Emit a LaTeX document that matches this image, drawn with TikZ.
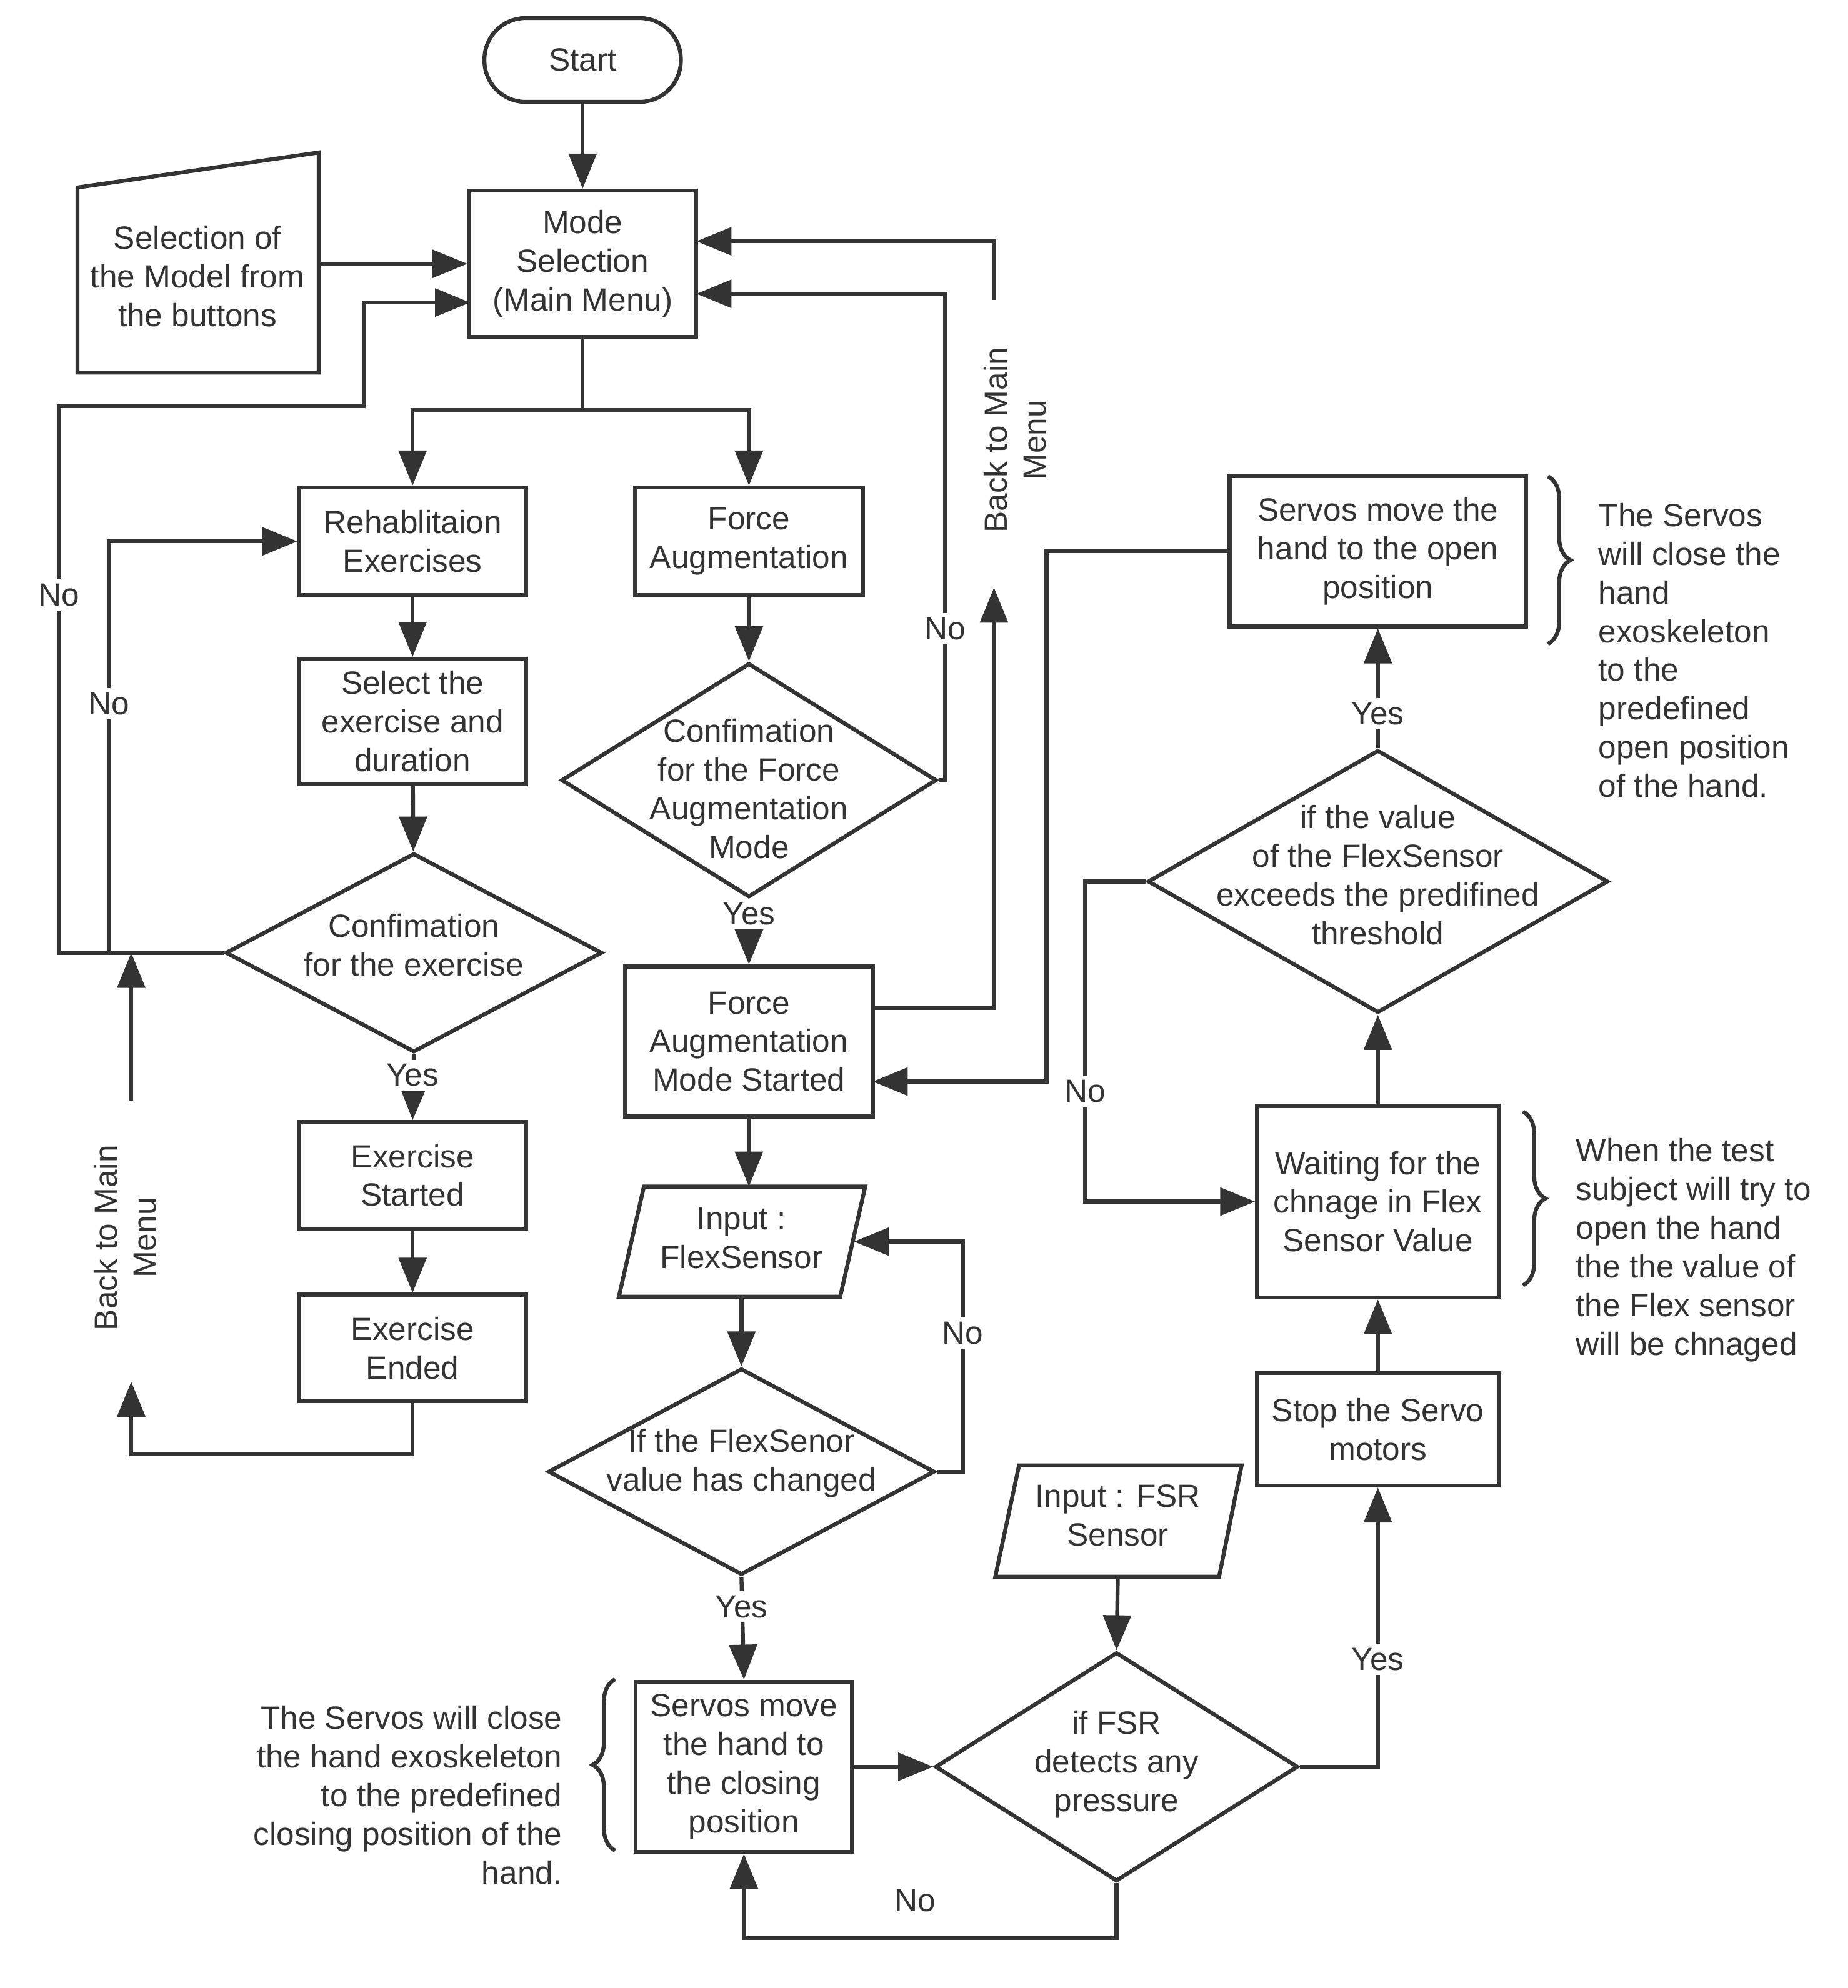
\documentclass[tikz,border=0pt]{standalone}
\usepackage{fontspec}
\setmainfont{Liberation Sans}
\usetikzlibrary{shapes.geometric,arrows.meta,decorations.pathreplacing}
\definecolor{ink}{HTML}{333333}
\begin{document}
\begin{tikzpicture}[x=0.01cm,y=-0.01cm,
  every node/.style={font=\fontsize{7.3}{8.8}\selectfont,text=ink,align=center},
  box/.style={draw=ink,line width=0.9pt,rectangle,inner sep=0pt},
  dia/.style={draw=ink,line width=0.9pt,diamond,inner sep=0pt},
  ln/.style={draw=ink,line width=0.9pt},
  ar/.style={ln,-{Triangle[length=0.28cm,width=0.22cm]}},
  lab/.style={fill=white,inner sep=1pt},
  br/.style={ln,decorate,decoration={brace,amplitude=0.18cm}}]
\useasboundingbox (0,0) rectangle (1478,1590);
\node[box,rounded corners=0.33cm,minimum width=1.57cm,minimum height=0.67cm] (start) at (466,48) {Start};
\draw[ln] (62,150) -- (255,122) -- (255,298) -- (62,298) -- cycle;
\node[minimum width=1.93cm,minimum height=1.76cm] (sel) at (158,221) {Selection of\\the Model from\\the buttons};
\node[box,minimum width=1.81cm,minimum height=1.17cm] (mode) at (466,211) {Mode\\Selection\\(Main Menu)};
\node[box,minimum width=1.81cm,minimum height=0.86cm] (rehab) at (330,433) {Rehablitaion\\Exercises};
\node[box,minimum width=1.82cm,minimum height=0.86cm] (force) at (599,433) {Force\\Augmentation};
\node[box,minimum width=1.81cm,minimum height=1.0cm] (selex) at (330,577) {Select the\\exercise and\\duration};
\node[dia,minimum width=3.0cm,minimum height=1.87cm] (confF) at (599,624) {};
\node at (599,631) {Confimation\\for the Force\\Augmentation\\Mode};
\node[dia,minimum width=3.01cm,minimum height=1.59cm] (confE) at (331,762) {};
\node at (331,756) {Confimation\\for the exercise};
\node[box,minimum width=1.98cm,minimum height=1.2cm] (fams) at (599,833) {Force\\Augmentation\\Mode Started};
\node[box,minimum width=1.81cm,minimum height=0.85cm] (exS) at (330,940) {Exercise\\Started};
\node[box,minimum width=1.81cm,minimum height=0.85cm] (exE) at (330,1078) {Exercise\\Ended};
\draw[ln] (515,949) -- (692,949) -- (672,1037) -- (495,1037) -- cycle;
\node[minimum width=1.8cm,minimum height=0.88cm] (inFlex) at (593,990) {Input :\\FlexSensor};
\node[dia,minimum width=3.09cm,minimum height=1.65cm] (ifFlex) at (593,1177) {};
\node at (593,1170) {If the FlexSenor\\value has changed};
\node[box,minimum width=1.73cm,minimum height=1.36cm] (servC) at (595,1413) {Servos move\\the hand to\\the closing\\position};
\draw[ln] (815,1172) -- (993,1172) -- (975,1261) -- (796,1261) -- cycle;
\node[minimum width=1.8cm,minimum height=0.89cm] (fsrIn) at (894,1212) {Input : FSR\\Sensor};
\node[dia,minimum width=2.9cm,minimum height=1.83cm] (fsrD) at (893,1413) {};
\node at (893,1411) {if FSR\\detects any\\pressure};
\node[box,minimum width=1.93cm,minimum height=0.9cm] (stop) at (1102,1143) {Stop the Servo\\motors};
\node[box,minimum width=1.93cm,minimum height=1.53cm] (wait) at (1102,961) {Waiting for the\\chnage in Flex\\Sensor Value};
\node[dia,minimum width=3.68cm,minimum height=2.1cm] (ifVal) at (1102,705) {};
\node at (1102,700) {if the value\\of the FlexSensor\\exceeds the predifined\\threshold};
\node[box,minimum width=2.37cm,minimum height=1.2cm] (servO) at (1102,441) {Servos move the\\hand to the open\\position};
% connectors
\draw[ar] (start) -- (mode);
\draw[ar] (255,211) -- (mode.west);
\draw[ar] (mode.south) -- (466,328) -| (rehab.north);
\draw[ar] (466,328) -| (force.north);
\draw[ar] (rehab) -- (selex);
\draw[ar] (selex) -- (confE);
\draw[ar] (force) -- (confF);
\draw[ar] (confE.west) -- (47,762) -- (47,325) -- (291,325) -- (291,242) -- (376,242);
\node[lab] at (47,476) {No};
\draw[ar] (87,762) -- (87,433) -- (rehab.west);
\node[lab] at (87,563) {No};
\coordinate (bm1) at (105,880);
\draw[ar] (bm1) -- (105,762);
\node[rotate=90] (bmt1) at (100,990) {Back to Main\\Menu};
\draw[ar] (exE.south) -- (330,1163) -- (105,1163) -- (105,1105);
\draw[ar] (confE.south) -- (exS.north);
\node[lab] at (330,860) {Yes};
\draw[ar] (exS) -- (exE);
\draw[ar] (confF.east) -- (756,624) -- (756,235) -- (557,235);
\node[lab] at (756,503) {No};
\draw[ar] (confF.south) -- (fams.north);
\node[lab] at (599,731) {Yes};
\draw[ar] (698,806) -- (795,806) -- (795,470);
\node[rotate=90] (bmt2) at (812,352) {Back to Main\\Menu};
\coordinate (bm2) at (795,240);
\draw[ar] (bm2) -- (795,193) -- (557,193);
\draw[ar] (servO.west) -- (837,441) -- (837,865) -- (698,865);
\draw[ar] (fams.south) -- (599,949);
\draw[ar] (593,1037) -- (ifFlex.north);
\draw[ar] (ifFlex.east) -- (770,1177) -- (770,993) -- (683,993);
\node[lab] at (770,1066) {No};
\draw[ar] (ifFlex.south) -- (servC.north);
\node[lab] at (593,1285) {Yes};
\draw[ar] (servC.east) -- (fsrD.west);
\draw[ar] (894,1261) -- (fsrD.north);
\draw[ar] (fsrD.south) -- (893,1550) -| (servC.south);
\node[lab] at (732,1520) {No};
\draw[ar] (fsrD.east) -| (stop.south);
\node[lab] at (1102,1327) {Yes};
\draw[ar] (stop) -- (wait);
\draw[ar] (wait) -- (ifVal.south);
\draw[ar] (ifVal.north) -- (servO.south);
\node[lab] at (1102,571) {Yes};
\draw[ar] (ifVal.west) -- (868,705) -- (868,961) -- (wait.west);
\node[lab] at (868,873) {No};
% braces and notes
\draw[br] (1238,381) -- (1238,515);
\node[align=left,anchor=north west] (n1) at (1266,390) {The Servos\\will close the\\hand\\exoskeleton\\to the\\predefined\\open position\\of the hand.};
\draw[br] (1218,889) -- (1218,1028);
\node[align=left,anchor=north west] (n2) at (1248,898) {When the test\\subject will try to\\open the hand\\the the value of\\the Flex sensor\\will be chnaged};
\draw[br] (492,1480) -- (492,1343);
\node[align=right,anchor=north east] (n3) at (462,1352) {The Servos will close\\the hand exoskeleton\\to the predefined\\closing position of the\\hand.};
\end{tikzpicture}
\end{document}
